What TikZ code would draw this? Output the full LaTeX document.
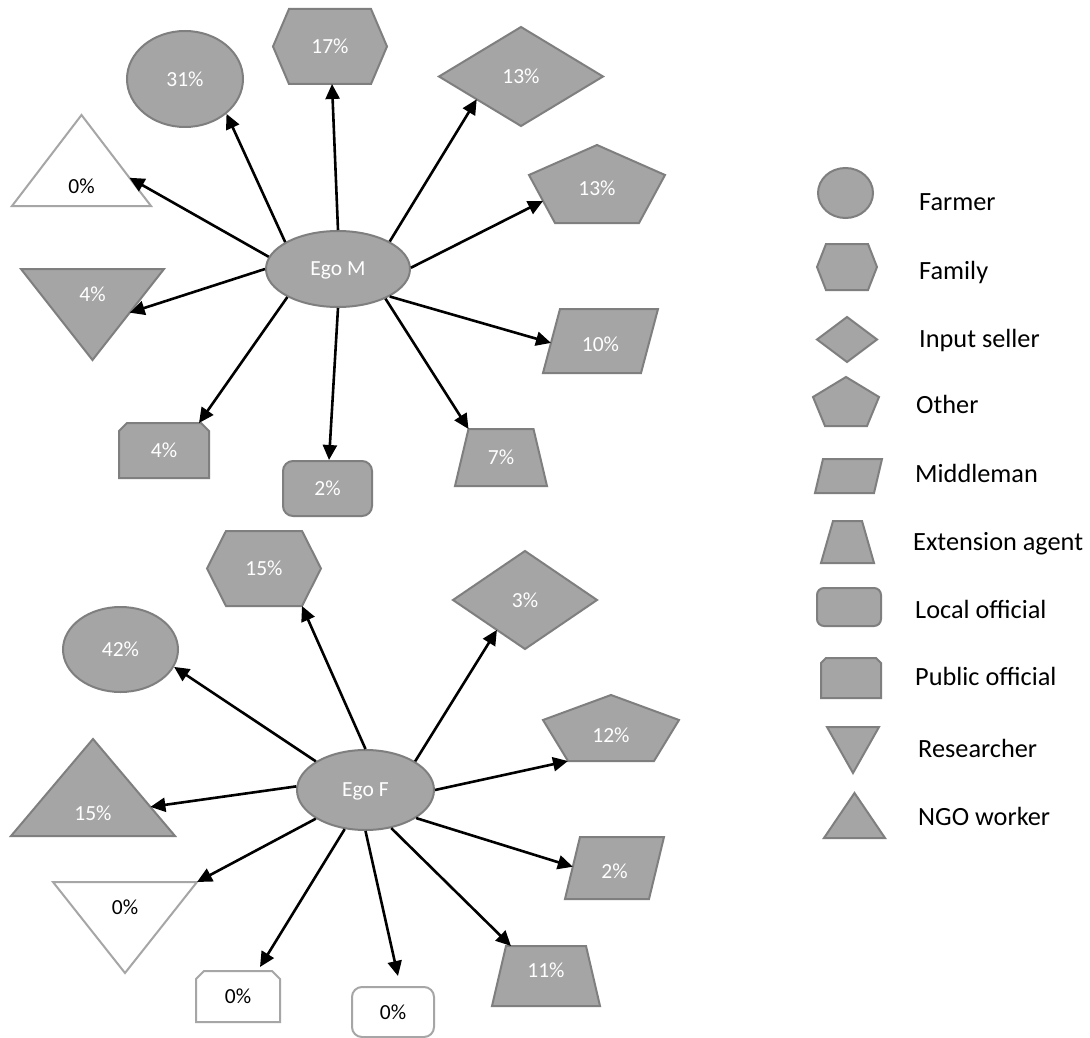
\documentclass[tikz,border=0pt]{standalone}
\usepackage{fontspec}
\newfontfamily\carlitofont{Carlito}
\usetikzlibrary{calc,arrows.meta,shapes.geometric,backgrounds}
\definecolor{gfill}{HTML}{A5A5A5}
\definecolor{gline}{HTML}{7F7F7F}
\definecolor{wline}{HTML}{A6A6A6}
\newcommand\lblfont{\carlitofont\fontsize{21.5}{24}\selectfont}
\newcommand\legfont{\carlitofont\fontsize{26.3}{30}\selectfont}
% outlines drawn around named boxes
\newcommand\shHex[3]{\draw[#3] (#1.west) -- ($(#1.north west)+(#2,0)$) coordinate (#1-tl) -- ($(#1.north east)+(-#2,0)$) coordinate (#1-tr) -- (#1.east) -- ($(#1.south east)+(-#2,0)$) coordinate (#1-br) -- ($(#1.south west)+(#2,0)$) coordinate (#1-bl) -- cycle;}
\newcommand\shPent[4]{\draw[#4] (#1.north) -- ($(#1.north east)+(0,#2)$) coordinate (#1-r) -- ($(#1.south east)+(-#3,0)$) coordinate (#1-br) -- ($(#1.south west)+(#3,0)$) coordinate (#1-bl) -- ($(#1.north west)+(0,#2)$) coordinate (#1-l) -- cycle;}
\newcommand\shDia[2]{\draw[#2] (#1.north) -- (#1.east) -- (#1.south) -- (#1.west) -- cycle;}
\newcommand\shPara[3]{\draw[#3] (#1.south west) -- ($(#1.north west)+(#2,0)$) coordinate (#1-tl) -- (#1.north east) -- ($(#1.south east)+(-#2,0)$) coordinate (#1-br) -- cycle;}
\newcommand\shTrap[3]{\draw[#3] (#1.south west) -- ($(#1.north west)+(#2,0)$) coordinate (#1-tl) -- ($(#1.north east)+(-#2,0)$) coordinate (#1-tr) -- (#1.south east) -- cycle;}
\newcommand\shCham[3]{\draw[#3] (#1.south west) -- ($(#1.north west)+(0,#2)$) -- ($(#1.north west)+(#2,0)$) -- ($(#1.north east)+(-#2,0)$) coordinate (#1-tr) -- ($(#1.north east)+(0,#2)$) -- (#1.south east) -- cycle;}
\newcommand\shTriUp[2]{\draw[#2] (#1.south west) -- (#1.north) -- (#1.south east) -- cycle;}
\newcommand\shTriDn[2]{\draw[#2] (#1.north west) -- (#1.north east) -- (#1.south) -- cycle;}
\tikzset{
  box/.style={shape=rectangle, inner sep=0pt, outer sep=0pt, draw=none},
  gshape/.style={draw=gline, fill=gfill, line width=2pt, line join=miter},
  wshape/.style={draw=wline, fill=white, line width=2pt, line join=miter},
  tw/.style={text=white, font=\lblfont, text depth=0pt},
  tb/.style={text=black, font=\lblfont, text depth=0pt},
  gell/.style={shape=ellipse, gshape, inner sep=0pt, tw},
  grr/.style={shape=rectangle, rounded corners=#1, gshape, inner sep=0pt, tw},
  grr/.default=10pt,
  wrr/.style={shape=rectangle, rounded corners=#1, wshape, inner sep=0pt, tb},
  wrr/.default=10pt,
  arr/.style={-{Triangle[length=15pt,width=14pt]}, line width=2.6pt, black},
  legtxt/.style={font=\legfont, text=black, inner sep=0pt, anchor=base west},
}
\begin{document}
\begin{tikzpicture}[x=1pt,y=-1pt]
\useasboundingbox (0,0) rectangle (1090,1038);
% ---------- Ego M group ----------
\node[gell, minimum width=144pt, minimum height=76pt] (egoM) at (338,269) {Ego M};
\node[gell, minimum width=116pt, minimum height=96pt] (mFarm) at (185,79) {31\%};
\node[box, tw, minimum width=114pt, minimum height=75pt] (mFam) at (330,46.5) {17\%};
\node[box, minimum width=139pt, minimum height=91pt] (mNgo) at (81.5,160.5) {};
\node[tb] (mNgoT) at ($(mNgo.center)+(0,25.5)$) {0\%};
\node[box, tw, minimum width=164pt, minimum height=99pt] (mInp) at (521,76.5) {13\%};
\node[box, minimum width=136pt, minimum height=78pt] (mOth) at (597,184) {};
\node[tw] (mOthT) at ($(mOth.center)+(0,4.5)$) {13\%};
\node[box, minimum width=143pt, minimum height=91pt] (mRes) at (92.5,314.5) {};
\node[tw] (mResT) at ($(mRes.center)+(0,-20)$) {4\%};
\node[box, minimum width=115pt, minimum height=64pt] (mMid) at (600.5,341) {};
\node[tw] (mMidT) at ($(mMid.center)+(0,3)$) {10\%};
\node[box, tw, minimum width=92pt, minimum height=57pt] (mExt) at (501,457.5) {7\%};
\node[grr, minimum width=89pt, minimum height=55pt] (mLoc) at (327.5,488.5) {2\%};
\node[box, tw, minimum width=90pt, minimum height=55pt] (mPub) at (164,450.5) {4\%};
% ---------- Ego F group ----------
\node[gell, minimum width=137pt, minimum height=80pt] (egoF) at (365.5,790) {Ego F};
\node[gell, minimum width=115pt, minimum height=85pt] (fFarm) at (120.5,649.5) {42\%};
\node[box, tw, minimum width=114pt, minimum height=75pt] (fFam) at (264,568.5) {15\%};
\node[box, tw, minimum width=144pt, minimum height=98pt] (fInp) at (525,600) {3\%};
\node[box, minimum width=136pt, minimum height=66pt] (fOth) at (611,728) {};
\node[tw] (fOthT) at ($(fOth.center)+(0,7)$) {12\%};
\node[box, minimum width=164pt, minimum height=97pt] (fNgo) at (93,787.5) {};
\node[tw] (fNgoT) at ($(fNgo.center)+(0,25.5)$) {15\%};
\node[box, minimum width=144pt, minimum height=91pt] (fRes) at (125,927.5) {};
\node[tb] (fResT) at ($(fRes.center)+(0,-20.5)$) {0\%};
\node[box, minimum width=99pt, minimum height=62pt] (fMid) at (614.5,868) {};
\node[tw] (fMidT) at ($(fMid.center)+(0,3)$) {2\%};
\node[box, minimum width=108pt, minimum height=60pt] (fExt) at (546,976) {};
\node[tw] (fExtT) at ($(fExt.center)+(0,-6)$) {11\%};
\node[wrr, minimum width=82pt, minimum height=50pt] (fLoc) at (393,1012) {0\%};
\node[box, tb, minimum width=84pt, minimum height=51pt] (fPub) at (238,996.5) {0\%};
% ---------- Legend ----------
\node[gell, minimum width=55pt, minimum height=50pt] (lFarm) at (845.5,193) {};
\node[box, minimum width=60pt, minimum height=46pt] (lFam) at (847,267) {};
\node[box, minimum width=60pt, minimum height=45pt] (lInp) at (847,339.5) {};
\node[box, minimum width=66pt, minimum height=49pt] (lOth) at (846,401.5) {};
\node[box, minimum width=67pt, minimum height=34pt] (lMid) at (848.5,476) {};
\node[box, minimum width=53pt, minimum height=42pt] (lExt) at (847.5,542) {};
\node[grr=7pt, minimum width=64pt, minimum height=38pt] (lLoc) at (849,607) {};
\node[box, minimum width=60pt, minimum height=40pt] (lPub) at (851,678) {};
\node[box, minimum width=52pt, minimum height=46pt] (lRes) at (853,750) {};
\node[box, minimum width=61pt, minimum height=45pt] (lNgo) at (854.5,815.5) {};
\node[legtxt] (tFarm) at (919,211) {Farmer};
\node[legtxt] (tFam) at (919,279) {Family};
\node[legtxt] (tInp) at (919,347) {Input seller};
\node[legtxt] (tOth) at (916,413) {Other};
\node[legtxt] (tMid) at (915,482) {Middleman};
\node[legtxt] (tExt) at (913,550) {Extension agent};
\node[legtxt] (tLoc) at (915,618) {Local official};
\node[legtxt] (tPub) at (915,685) {Public official};
\node[legtxt] (tRes) at (918,757) {Researcher};
\node[legtxt] (tNgo) at (918,825) {NGO worker};
% ---------- outlines ----------
\begin{scope}[on background layer]
\fill[white] (0,0) rectangle (1090,1038);
\shHex{mFam}{16}{gshape}
\shTriUp{mNgo}{wshape}
\shDia{mInp}{gshape}
\shPent{mOth}{30}{26}{gshape}
\shTriDn{mRes}{gshape}
\shPara{mMid}{17}{gshape}
\shTrap{mExt}{13.5}{gshape}
\shCham{mPub}{8}{gshape}
\shHex{fFam}{19}{gshape}
\shDia{fInp}{gshape}
\shPent{fOth}{25}{25}{gshape}
\shTriUp{fNgo}{gshape}
\shTriDn{fRes}{wshape}
\shPara{fMid}{15}{gshape}
\shTrap{fExt}{14}{gshape}
\shCham{fPub}{8}{wshape}
\shHex{lFam}{9}{gshape}
\shDia{lInp}{gshape}
\shPent{lOth}{20}{12}{gshape}
\shPara{lMid}{8}{gshape}
\shTrap{lExt}{12}{gshape}
\shCham{lPub}{5}{gshape}
\shTriDn{lRes}{gshape}
\shTriUp{lNgo}{gshape}
\end{scope}
% ---------- connectors ----------
\draw[arr] (egoM.153) -- (mFarm.-40);
\draw[arr] (egoM.90) -- ($(mFam.south)+(2,0)$);
\draw[arr] (egoM.170) -- ($(mNgo.north)!0.69!(mNgo.south east)$);
\draw[arr] (egoM.28) -- ($(mInp.west)!0.46!(mInp.south)$);
\draw[arr] (egoM.1) -- ($(mOth-l)!0.54!(mOth-bl)$);
\draw[arr] (egoM.180) -- ($(mRes.north east)!0.48!(mRes.south)$);
\draw[arr] (egoM.-28) -- ($(mMid-tl)!0.53!(mMid.south west)$);
\draw[arr] (egoM.-32) -- (mExt-tl);
\draw[arr] (egoM.-90) -- ($(mLoc.north)+(1.5,0)$);
\draw[arr] (egoM.209) -- ($(mPub.north east)+(-10,0)$);
\draw[arr] (egoF.150) -- (fFarm.-18);
\draw[arr] (egoF.90) -- (fFam-br);
\draw[arr] (egoF.30) -- ($(fInp.west)!0.61!(fInp.south)$);
\draw[arr] (egoF.0) -- (fOth-bl);
\draw[arr] (egoF.-29) -- ($(fMid-tl)!0.48!(fMid.south west)$);
\draw[arr] (egoF.-56) -- ($(fExt-tl)+(5,0)$);
\draw[arr] (egoF.-90) -- ($(fLoc.north)+(5,-10)$);
\draw[arr] (egoF.242) -- ($(fPub.north)+(22,-4)$);
\draw[arr] (egoF.210) -- (fRes.north east);
\draw[arr] (egoF.177) -- ($(fNgo.north)!0.70!(fNgo.south east)$);
\end{tikzpicture}
\end{document}
